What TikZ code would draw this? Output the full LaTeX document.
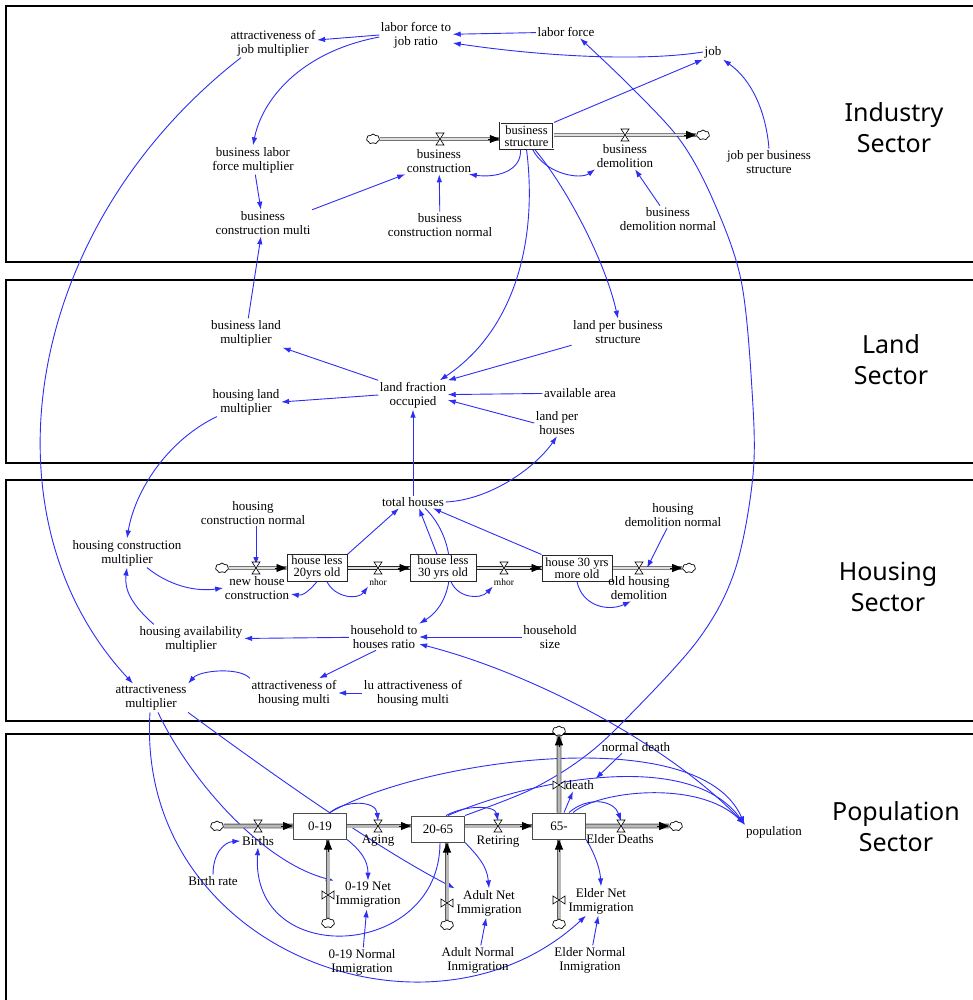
\documentclass[tikz,border=0pt]{standalone}
\usepackage{fontspec}
\setmainfont{Liberation Serif}
\newfontfamily\secfont{Noto Sans}
\usetikzlibrary{arrows.meta,shapes.symbols,calc}
\definecolor{lk}{RGB}{45,45,245}
\pgfdeclarelayer{bg}
\pgfdeclarelayer{mid}
\pgfsetlayers{bg,mid,main}
\begin{document}
\begin{tikzpicture}[x=1pt,y=-1pt,
  lbl/.style={font=\fontsize{13}{14}\selectfont, align=center, inner sep=1.5pt},
  small/.style={font=\fontsize{9.5}{10}\selectfont, inner sep=1pt},
  stock/.style={draw=black!85, line width=1pt, fill=white, align=center, font=\fontsize{12.5}{12}\selectfont, inner sep=1.5pt, minimum height=26pt},
  stockd/.style={stock, double, double distance=1pt, line width=0.5pt},
  pstock/.style={draw=black!70, line width=1pt, fill=white, font=\fontsize{13}{14}\selectfont, minimum width=53pt, minimum height=26pt},
  link/.style={draw=lk, line width=0.9pt, -{Latex[length=8pt,width=5.5pt]}},
  pipe/.style={draw=black!85, line width=0.7pt, double=gray!25, double distance=2pt},
  ppipe/.style={draw=black!65, line width=0.8pt, double=gray!55, double distance=3pt},
  ptip/.style={-{Triangle[length=10pt,width=8pt]}, line width=0.8pt, black},
  cloudn/.style={cloud, cloud puffs=7, cloud puff arc=120, aspect=1.4, draw, fill=white, minimum width=13pt, minimum height=10pt, inner sep=0pt, line width=0.7pt},
  sector/.style={draw=black, line width=1.8pt},
  sect/.style={font=\secfont\fontsize{25}{31}\selectfont, align=center},
  hvalve/.pic={\draw[fill=white, line width=0.6pt] (-4,-6) -- (4,-6) -- (-4,6) -- (4,6) -- cycle;},
  vvalve/.pic={\draw[fill=white, line width=0.6pt] (-6,-4) -- (-6,4) -- (6,-4) -- (6,4) -- cycle;}
]
\useasboundingbox (0,0) rectangle (972,1000);
\clip (0,0) rectangle (972,1000);

% ---------------- Industry ----------------
\node[sect] (indl) at (894,128) {Industry\\Sector};
\node[lbl] (lfjr) at (416,35) {labor force to\\job ratio};
\node[lbl] (ajm) at (273,43) {attractiveness of\\job multiplier};
\node[lbl] (lf) at (566,32) {labor force};
\node[lbl] (job) at (713,52) {job};
\node[lbl] (blfm) at (253,160) {business labor\\force multiplier};
\node[lbl] (bcm) at (263,223) {business\\construction multi};
\node[lbl] (bcl) at (439,161) {business\\construction};
\node[lbl] (bcn) at (440,225) {business\\construction normal};
\node[stockd, minimum width=53pt] (bs) at (526.5,136) {business\\structure};
\node[lbl] (bdl) at (625,156) {business\\demolition};
\node[lbl] (bdn) at (668,219) {business\\demolition normal};
\node[lbl] (jpbs) at (769,162) {job per business\\structure};
\node[cloudn] (ic1) at (373,139) {};
\node[cloudn] (ic2) at (703,135) {};
\coordinate (bcv) at (440,139);
\coordinate (bdv) at (625,135);

% ---------------- Land ----------------
\node[sect] (landl) at (891,360) {Land\\Sector};
\node[lbl] (blm) at (246,333) {business land\\multiplier};
\node[lbl] (hlm) at (246,402) {housing land\\multiplier};
\node[lbl] (lfo) at (413,395) {land fraction\\occupied};
\node[lbl] (lpbs) at (618,332) {land per business\\structure};
\node[lbl] (aa) at (580,393) {available area};
\node[lbl] (lph) at (557,423) {land per\\houses};

% ---------------- Housing ----------------
\node[sect] (housl) at (888,587) {Housing\\Sector};
\node[lbl] (th) at (413,502) {total houses};
\node[lbl] (hcn) at (253,513) {housing\\construction normal};
\node[lbl] (hdn) at (673,515) {housing\\demolition normal};
\node[lbl] (hcm) at (127,553) {housing construction\\multiplier};
\node[cloudn] (hc1) at (222,568) {};
\node[stock, minimum width=60pt] (h20) at (317,568) {house less\\20yrs old};
\node[stock, minimum width=66pt] (h30) at (443,568) {house less\\30 yrs old};
\node[stock, minimum width=70pt] (h30m) at (577,568) {house 30 yrs\\more old};
\node[cloudn] (hc2) at (689,568) {};
\node[lbl] (nhcl) at (257,588) {new house\\construction};
\node[small] (nhorl) at (378,582) {nhor};
\node[small] (mhorl) at (504,582) {mhor};
\node[lbl] (ohdl) at (639,588) {old housing\\demolition};
\node[lbl] (hhr) at (384,637) {household to\\houses ratio};
\node[lbl] (hs) at (550,637) {household\\size};
\node[lbl] (ham) at (191,639) {housing availability\\multiplier};
\node[lbl] (am) at (151,698) {attractiveness\\multiplier};
\node[lbl] (ahm) at (294,693) {attractiveness of\\housing multi};
\node[lbl] (luahm) at (413,693) {lu attractiveness of\\housing multi};
\coordinate (nhcv) at (256,568);
\coordinate (nhorv) at (378,568);
\coordinate (mhorv) at (504,568);
\coordinate (ohdv) at (639,568);

% ---------------- Population ----------------
\node[sect] (popl) at (896,827) {Population\\Sector};
\node[cloudn] (pc1) at (217,826) {};
\node[pstock] (b019) at (320,826) {0-19};
\node[pstock] (b2065) at (438,829) {20-65};
\node[pstock] (b65) at (559,826) {65-};
\node[cloudn] (pc2) at (676,826) {};
\node[cloudn] (pc3) at (559,731) {};
\node[cloudn] (pc4) at (328,923) {};
\node[cloudn] (pc5) at (447,925) {};
\node[cloudn] (pc6) at (559,924) {};
\node[lbl] (birthsl) at (258,841) {Births};
\node[lbl] (agingl) at (378,841) {Aging};
\node[lbl] (retl) at (498,842) {Retiring};
\node[lbl] (edl) at (620,839) {Elder Deaths};
\node[lbl, anchor=west] (deathl) at (564,785) {death};
\node[lbl] (ndeath) at (636,747) {normal death};
\node[lbl] (pop) at (774,832) {population};
\node[lbl] (brate) at (213,881) {Birth rate};
\node[lbl] (n019net) at (368,895) {0-19 Net\\Immigration};
\node[lbl] (n019norm) at (362,962) {0-19 Normal\\Inmigration};
\node[lbl] (anet) at (489,903) {Adult Net\\Immigration};
\node[lbl] (anorm) at (478,960) {Adult Normal\\Inmigration};
\node[lbl] (enet) at (601,901) {Elder Net\\Immigration};
\node[lbl] (enorm) at (590,960) {Elder Normal\\Inmigration};
\coordinate (birthv) at (258,826);
\coordinate (agingv) at (378,826);
\coordinate (retv) at (498,826);
\coordinate (edv) at (621,826);
\coordinate (deathv) at (559,785);
\coordinate (n019v) at (328,895);
\coordinate (anetv) at (447,903);
\coordinate (enetv) at (559,900);

% ---------------- sector frames ----------------
\begin{pgfonlayer}{bg}
\draw[sector] (6,6) rectangle (985,262);
\draw[sector] (6,280) rectangle (985,463);
\draw[sector] (6,480) rectangle (985,721);
\draw[sector] (6,734) rectangle (985,1010);
\end{pgfonlayer}

\begin{pgfonlayer}{mid}
% ---- industry links
\draw[link] (lf) -- (lfjr);
\draw[link] (job.west) .. controls (640,62) and (540,56) .. ([yshift=-8pt]lfjr.east);
\draw[link] (lfjr.west) -- ([yshift=3pt]ajm.east);
\draw[link] ([yshift=-2pt]lfjr.west) .. controls (300,52) and (262,100) .. (blfm.north);
\draw[link] (blfm) -- (bcm);
\draw[link] (bcm.north east) -- (bcl.south west);
\draw[link] (bcn) -- (bcl);
\draw[link] ([xshift=-6pt]bs.south) .. controls (522,172) and (495,178) .. ([xshift=-4pt]bcl.south east);
\draw[link] (bs.north east) -- (job.south west);
\draw[link] (jpbs.north) .. controls (766,112) and (752,80) .. (job.south east);
\draw[link] ([xshift=6pt]bs.south) .. controls (545,174) and (580,180) .. (bdl.south west);
\draw[link] ([xshift=-8pt]bdn.north) -- ([xshift=10pt]bdl.south);
\draw[link] (bs.south) .. controls (538,240) and (515,330) .. ([xshift=-8pt]lfo.north east);
\draw[link] ([xshift=8pt]bs.south) .. controls (565,185) and (605,260) .. (lpbs.north);
% ---- land links
\draw[link] (lfo.north west) -- (blm.south east);
\draw[link] (lfo.west) -- (hlm.east);
\draw[link] (lpbs.south west) -- (lfo.north east);
\draw[link] (aa) -- (lfo);
\draw[link] (lph.west) -- ([yshift=-5pt]lfo.east);
\draw[link] (blm) -- (bcm);
\draw[link] (th) -- (lfo);
\draw[link] (th.east) .. controls (490,500) and (535,468) .. (lph.south);
% ---- housing links
\draw[link] ([xshift=6pt]hlm.south west) .. controls (168,440) and (135,490) .. (hcm.north);
\draw[link] ([xshift=3pt]hcn.south) -- ([yshift=3pt]nhcv);
\draw[link] ([xshift=20pt]hcm.south) .. controls (168,585) and (195,592) .. (nhcl.west);
\draw[link] ([xshift=16pt]ham.north west) .. controls (132,605) and (124,590) .. (hcm.south);
\draw[link] (h20.south) .. controls (310,590) and (303,596) .. ([yshift=-6pt]nhcl.east);
\draw[link] ([xshift=10pt]h20.south) .. controls (335,598) and (358,600) .. (nhorl.south west);
\draw[link] ([xshift=8pt]h30.south) .. controls (458,598) and (480,600) .. (mhorl.south west);
\draw[link] (h30m.south) .. controls (582,606) and (608,612) .. ([xshift=-8pt]ohdl.south);
\draw[link] ([xshift=-6pt]hdn.south) -- ([xshift=8pt]ohdv);
\draw[link] (h20.north east) -- ([xshift=-14pt]th.south);
\draw[link] ([xshift=-6pt]h30.north) -- ([xshift=6pt]th.south);
\draw[link] (h30m.north west) -- ([xshift=20pt]th.south);
\draw[link] ([xshift=12pt]th.south) .. controls (458,540) and (458,600) .. (hhr.north east);
\draw[link] (hs) -- (hhr);
\draw[link] (pop.north west) .. controls (680,752) and (540,675) .. ([yshift=-7pt]hhr.east);
\draw[link] (hhr) -- (ham);
\draw[link] ([xshift=-8pt]hhr.south) -- ([xshift=25pt]ahm.north);
\draw[link] (luahm) -- (ahm);
\draw[link] (ahm.north west) .. controls (240,667) and (200,670) .. (am.north east);
\draw[link] ([xshift=12pt]ajm.south west) .. controls (20,230) and (-20,520) .. ([xshift=-18pt]am.north);
% ---- population links
\draw[link] ([xshift=-1pt]am.south) .. controls (135,950) and (430,1060) .. ([xshift=-15pt]enet.south);
\draw[link] ([xshift=7pt]am.south) .. controls (190,780) and (262,862) .. (n019net.north west);
\draw[link] (am.south east) .. controls (280,780) and (380,850) .. (anet.north west);
\draw[link] (b019.south east) .. controls (360,850) and (368,860) .. (n019net.north);
\draw[link] ([xshift=10pt]b019.north) .. controls (345,800) and (376,800) .. ([yshift=5pt]agingv);
\draw[link] ([xshift=10pt]b019.north) .. controls (420,760) and (700,720) .. (pop.north west);
\draw[link] ([xshift=8pt]b2065.north) .. controls (465,805) and (495,805) .. ([yshift=5pt]retv);
\draw[link] ([xshift=10pt]b2065.north) .. controls (530,780) and (690,748) .. (pop.north west);
\draw[link] plot[smooth, tension=0.55] coordinates {(b2065.north east) (530,790) (580,760) (623,722) (698,640) (735,570) (753,475) (752,390) (741,280) (713,200) (680,140) (630,86) ([xshift=14pt]lf.south)};
\draw[link] ([xshift=2pt]b2065.south) .. controls (440,960) and (250,970) .. (birthsl.south);
\draw[link] (brate.north) .. controls (213,852) and (225,842) .. (birthsl.west);
\draw[link] (b2065.south east) .. controls (478,856) and (487,866) .. (anet.north);
\draw[link] ([xshift=5pt]b65.north) -- ([xshift=9pt]deathl.south west);
\draw[link] ([xshift=-14pt]ndeath.south) -- (deathl.north east);
\draw[link] ([xshift=10pt]b65.north) .. controls (588,796) and (614,800) .. ([yshift=5pt]edv);
\draw[link] ([xshift=14pt]b65.north) .. controls (600,790) and (700,780) .. (pop.north west);
\draw[link] (b65.south east) .. controls (594,852) and (600,868) .. (enet.north);
\draw[link] (n019norm) -- (n019net);
\draw[link] (anorm) -- (anet);
\draw[link] (enorm) -- (enet);

% ---- pipes
\draw[pipe] (ic1) -- (ic1 -| bs.west);
\draw[ptip] ($(ic1 -| bs.west)+(-12,0)$) -- (ic1 -| bs.west);
\draw[pipe] (bs.east |- ic2) -- (ic2);
\draw[ptip] ($(ic2.west)+(-12,0)$) -- (ic2.west);
\draw[pipe] (hc1) -- (h20);
\draw[ptip] ($(h20.west)+(-12,0)$) -- (h20.west);
\draw[pipe] (h20) -- (h30);
\draw[ptip] ($(h30.west)+(-12,0)$) -- (h30.west);
\draw[pipe] (h30) -- (h30m);
\draw[ptip] ($(h30m.west)+(-12,0)$) -- (h30m.west);
\draw[pipe] (h30m) -- (hc2);
\draw[ptip] ($(hc2.west)+(-12,0)$) -- (hc2.west);
\draw[ppipe] (pc1) -- (b019);
\draw[ptip] ($(b019.west)+(-12,0)$) -- (b019.west);
\draw[ppipe] (b019.east) -- (b019.east -| b2065.west);
\draw[ptip] ($(b019.east -| b2065.west)+(-12,0)$) -- (b019.east -| b2065.west);
\draw[ppipe] (b65.west -| b2065.east) -- (b65.west);
\draw[ptip] ($(b65.west)+(-12,0)$) -- (b65.west);
\draw[ppipe] (b65) -- (pc2);
\draw[ptip] ($(pc2.west)+(-12,0)$) -- (pc2.west);
\draw[ppipe] (b65) -- (pc3);
\draw[ptip] ($(pc3.south)+(0,12)$) -- (pc3.south);
\draw[ppipe] (pc4) -- (pc4 |- b019.south);
\draw[ptip] ($(pc4 |- b019.south)+(0,12)$) -- (pc4 |- b019.south);
\draw[ppipe] (pc5) -- (pc5 |- b2065.south);
\draw[ptip] ($(pc5 |- b2065.south)+(0,12)$) -- (pc5 |- b2065.south);
\draw[ppipe] (pc6) -- (pc6 |- b65.south);
\draw[ptip] ($(pc6 |- b65.south)+(0,12)$) -- (pc6 |- b65.south);
\end{pgfonlayer}

% ---- valves
\pic at (bcv) {hvalve};
\pic at (bdv) {hvalve};
\pic at (nhcv) {hvalve};
\pic at (nhorv) {hvalve};
\pic at (mhorv) {hvalve};
\pic at (ohdv) {hvalve};
\pic at (birthv) {hvalve};
\pic at (agingv) {hvalve};
\pic at (retv) {hvalve};
\pic at (edv) {hvalve};
\pic at (deathv) {vvalve};
\pic at (n019v) {vvalve};
\pic at (anetv) {vvalve};
\pic at (enetv) {vvalve};
\end{tikzpicture}
\end{document}
